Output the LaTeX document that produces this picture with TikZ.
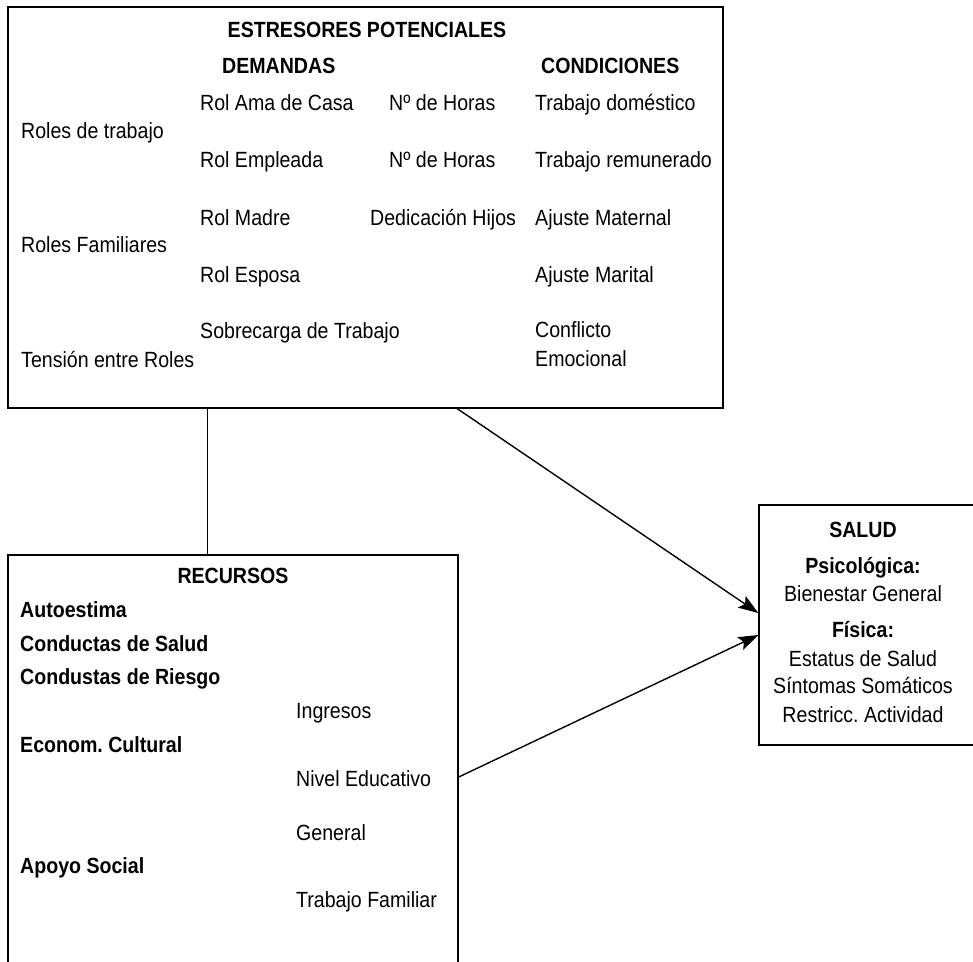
\documentclass[tikz,border=0pt]{standalone}
\usepackage{fontspec}
\setmainfont{Liberation Sans}[FakeStretch=0.89]
\usetikzlibrary{arrows.meta}
\frenchspacing

\begin{document}
\begin{tikzpicture}[x=1pt, y=-1pt,
    box/.style={draw, line width=1.4pt, inner sep=0pt},
    txt/.style={anchor=base west, inner sep=0pt, font=\fontsize{22}{28}\selectfont},
    txtb/.style={txt, font=\fontsize{22}{28}\selectfont\bfseries},
    head/.style={anchor=base, inner sep=0pt, font=\fontsize{22}{28}\selectfont\bfseries},
    cen/.style={anchor=base, inner sep=0pt, font=\fontsize{22}{28}\selectfont},
    link/.style={line width=1.4pt, -{Stealth[length=20pt, width=14pt, inset=4pt]}}]

  \useasboundingbox (0,0) rectangle (973,961);

  % Boxes
  \node[box, minimum width=715pt, minimum height=401pt] (estres) at (365.5,207.5) {};
  \node[box, minimum width=450pt, minimum height=425pt] (recursos) at (233,767.5) {};
  \node[box, minimum width=226pt, minimum height=240pt] (salud) at (872,625) {};

  % Estresores potenciales
  \node[head] (esttitle) at (367,37) {ESTRESORES POTENCIALES};
  \node[txtb] (demandas) at (222,73) {DEMANDAS};
  \node[txtb] (condic) at (541,73) {CONDICIONES};

  \node[txt] (ama) at (200,110) {Rol Ama de Casa};
  \node[txt] (horasA) at (389,110) {Nº de Horas};
  \node[txt] (domest) at (535,110) {Trabajo doméstico};
  \node[txt] (rtrab) at (21,138) {Roles de trabajo};
  \node[txt] (emplea) at (200,167) {Rol Empleada};
  \node[txt] (horasB) at (389,167) {Nº de Horas};
  \node[txt] (remun) at (535,167) {Trabajo remunerado};

  \node[txt] (madre) at (200,225) {Rol Madre};
  \node[txt] (hijos) at (370,225) {Dedicación Hijos};
  \node[txt] (ajmat) at (535,225) {Ajuste Maternal};
  \node[txt] (rfam) at (21,252) {Roles Familiares};
  \node[txt] (esposa) at (200,282) {Rol Esposa};
  \node[txt] (ajmar) at (535,282) {Ajuste Marital};

  \node[txt] (sobrec) at (200,338) {Sobrecarga de Trabajo};
  \node[txt] (confl) at (535,337) {Conflicto};
  \node[txt] (emoc) at (535,366) {Emocional};
  \node[txt] (tension) at (21,367) {Tensión entre Roles};

  % Recursos
  \node[head] (rectitle) at (233,583) {RECURSOS};
  \node[txtb] (autoest) at (20,617) {Autoestima};
  \node[txtb] (cond) at (20,651) {Conductas de Salud};
  \node[txtb] (riesgo) at (20,684) {Condustas de Riesgo};
  \node[txt] (ingr) at (296,718) {Ingresos};
  \node[txtb] (econ) at (20,752) {Econom. Cultural};
  \node[txt] (nivel) at (296,786) {Nivel Educativo};
  \node[txt] (gener) at (296,840) {General};
  \node[txtb] (apoyo) at (20,873) {Apoyo Social};
  \node[txt] (trfam) at (296,907) {Trabajo Familiar};

  % Salud
  \node[head] (saltitle) at (863,537) {SALUD};
  \node[head] (psico) at (863,573) {Psicológica:};
  \node[cen] (bienes) at (863,601) {Bienestar General};
  \node[head] (fisica) at (863,637) {Física:};
  \node[cen] (estat) at (863,666) {Estatus de Salud};
  \node[cen] (sintom) at (863,693) {Síntomas Somáticos};
  \node[cen] (restr) at (863,722) {Restricc. Actividad};

  % Connectors
  \draw[line width=1.4pt] ([xshift=200pt]estres.south west) -- ([xshift=200pt]recursos.north west);
  \draw[link] ([xshift=450pt]estres.south west) -- ([yshift=12pt]salud.west);
  \draw[link] ([yshift=-9.5pt]recursos.east) -- ([yshift=-10pt]salud.west);

\end{tikzpicture}
\end{document}
